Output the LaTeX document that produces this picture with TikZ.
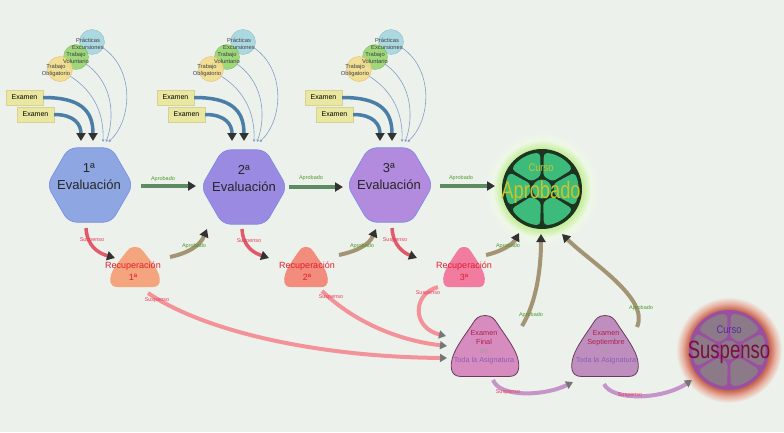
\documentclass[tikz,border=0pt]{standalone}
\usepackage{fontspec}
\setmainfont{Liberation Sans}
\usetikzlibrary{arrows.meta,shapes.geometric}
\definecolor{bg}{RGB}{237,241,236}
\definecolor{exbox}{RGB}{234,232,160}
\definecolor{exboxline}{RGB}{214,210,150}
\definecolor{bluearr}{RGB}{74,126,166}
\definecolor{thinline}{RGB}{130,158,200}
\definecolor{cblue}{RGB}{166,214,224}
\definecolor{cgreen}{RGB}{150,214,110}
\definecolor{cyellow}{RGB}{242,222,140}
\definecolor{cyellowline}{RGB}{240,190,120}
\definecolor{hexA}{RGB}{142,166,226}
\definecolor{hexB}{RGB}{154,138,226}
\definecolor{hexC}{RGB}{178,138,222}
\definecolor{hexline}{RGB}{120,140,230}
\definecolor{greenarr}{RGB}{94,140,98}
\definecolor{aprtext}{RGB}{76,154,42}
\definecolor{susparr}{RGB}{226,90,105}
\definecolor{susptext}{RGB}{232,64,90}
\definecolor{tanarr}{RGB}{163,148,116}
\definecolor{recA}{RGB}{244,165,126}
\definecolor{recB}{RGB}{242,140,124}
\definecolor{recC}{RGB}{242,124,160}
\definecolor{rectext}{RGB}{226,30,46}
\definecolor{pinkarr}{RGB}{244,146,154}
\definecolor{exfin}{RGB}{214,140,190}
\definecolor{exsep}{RGB}{190,142,190}
\definecolor{exline}{RGB}{106,58,88}
\definecolor{exred}{RGB}{176,32,74}
\definecolor{exgrey}{RGB}{160,160,160}
\definecolor{expurple}{RGB}{138,94,181}
\definecolor{purparr}{RGB}{197,148,201}
\definecolor{tipdark}{RGB}{50,50,50}
\definecolor{tipgrey}{RGB}{118,118,118}
\definecolor{ballgreen}{RGB}{61,187,122}
\definecolor{ballline}{RGB}{28,52,32}
\definecolor{aprbig}{RGB}{204,196,44}
\definecolor{ballgrey}{RGB}{140,122,136}
\definecolor{ballpurple}{RGB}{154,80,160}
\definecolor{suscurso}{RGB}{90,40,160}
\definecolor{susbig}{RGB}{122,16,64}
\definecolor{glowAa}{RGB}{200,238,160}
\definecolor{glowAb}{RGB}{238,248,230}
\definecolor{glowSa}{RGB}{196,100,78}
\definecolor{glowSb}{RGB}{232,176,160}
\pgfdeclareradialshading{glowapr}{\pgfpoint{0bp}{0bp}}{color(0bp)=(glowAa); color(18bp)=(glowAa); color(21.5bp)=(glowAb); color(25bp)=(bg); color(50bp)=(bg)}
\pgfdeclareradialshading{glowsus}{\pgfpoint{0bp}{0bp}}{color(0bp)=(glowSa); color(19bp)=(glowSa); color(22bp)=(glowSb); color(25bp)=(bg); color(50bp)=(bg)}

% rounded triangle blob: cx cy halfwidth halfheight options
\newcommand\drawblob[5]{%
  \path[#5] (#1,{#2-#4})
   .. controls ({#1+0.2*#3},{#2-#4}) and ({#1+0.28*#3},{#2-0.88*#4}) .. ({#1+0.36*#3},{#2-0.74*#4})
   .. controls ({#1+0.52*#3},{#2-0.46*#4}) and ({#1+0.85*#3},{#2}) .. ({#1+0.95*#3},{#2+0.36*#4})
   .. controls ({#1+1.02*#3},{#2+0.62*#4}) and ({#1+1.05*#3},{#2+#4}) .. ({#1+0.7*#3},{#2+#4})
   -- ({#1-0.7*#3},{#2+#4})
   .. controls ({#1-1.05*#3},{#2+#4}) and ({#1-1.02*#3},{#2+0.62*#4}) .. ({#1-0.95*#3},{#2+0.36*#4})
   .. controls ({#1-0.85*#3},{#2}) and ({#1-0.52*#3},{#2-0.46*#4}) .. ({#1-0.36*#3},{#2-0.74*#4})
   .. controls ({#1-0.28*#3},{#2-0.88*#4}) and ({#1-0.2*#3},{#2-#4}) .. cycle;}

% ball: cx cy r panelfill linecolor
\newcommand\drawball[5]{%
  \fill[#5] (#1,#2) circle (#3);
  \begin{scope}[shift={(#1,#2)}]
    \foreach \cc in {0,60,...,300}{
      \fill[#4, rounded corners=3.5pt] ({\cc-25}:13) -- ({\cc-27}:{#3-3.8}) arc[start angle={\cc-27}, end angle={\cc+27}, radius={#3-3.8}] -- ({\cc+25}:13) -- cycle;
    }
    \fill[#4] (0,0) circle (9.5);
  \end{scope}}

\begin{document}
\begin{tikzpicture}[x=1pt,y=-1pt,
  lbl/.style={font=\fontsize{5.5}{6}\selectfont, inner sep=0pt},
  arrD/.style={-{Triangle[length=8pt,width=9pt,color=tipdark]}},
  arrG/.style={-{Triangle[length=7pt,width=8pt,color=tipgrey]}},
  circs/.style={circle, minimum size=25pt, inner sep=0pt, fill opacity=0.9},
  ctext/.style={font=\fontsize{5.8}{7.5}\selectfont, align=center, text=black!75, inner sep=0pt},
  exboxs/.style={fill=exbox, draw=exboxline, line width=0.4pt, minimum width=37pt, minimum height=15pt, inner sep=0pt, font=\fontsize{7}{8}\selectfont},
  bluethick/.style={draw=bluearr, line width=3.5pt, arrD},
  thinarr/.style={draw=thinline, line width=0.6pt, -{Triangle[length=2.5pt,width=2.5pt]}},
  hexs/.style={regular polygon, regular polygon sides=6, minimum size=86pt, inner sep=0pt, draw=hexline, line width=0.6pt, rounded corners=8pt},
  hext/.style={font=\fontsize{13}{17}\selectfont, align=center, text=black!85, inner sep=0pt},
  rect/.style={font=\fontsize{9}{12}\selectfont, align=center, text=rectext, inner sep=0pt},
  ext/.style={font=\fontsize{7.3}{9}\selectfont, align=center, inner sep=0pt},
  greenline/.style={draw=greenarr, line width=4.5pt, arrD},
  suspline/.style={draw=susparr, line width=3.5pt, arrD},
  tanline/.style={draw=tanarr, line width=4pt, arrD},
  pinkline/.style={draw=pinkarr, line width=4pt, arrG},
  purpline/.style={draw=purparr, line width=4pt, arrG}]
\path[use as bounding box, fill=bg] (0,0) rectangle (784,432);

% glows
\shade[shading=glowapr] (542,189) circle (57);
\shade[shading=glowsus] (729,350) circle (53);

% clusters
\foreach \k/\dx in {1/0,2/151,3/299}{
  \begin{scope}[xshift=\dx]
    \node[circs, fill=cblue, draw=cblue!85!black, line width=0.3pt] (cb\k) at (92,42) {};
    \node[circs, fill=cgreen, draw=cgreen!85!black, line width=0.3pt] (cg\k) at (76,57) {};
    \node[circs, fill=cyellow, draw=cyellowline, line width=0.5pt] (cy\k) at (60,69) {};
    \node[ctext] (tp\k) at (88,44) {Prácticas\\Excursiones};
    \node[ctext] (tv\k) at (76,58) {Trabajo\\Voluntario};
    \node[ctext] (to\k) at (56,70.5) {Trabajo\\Obligatorio};
    \node[exboxs] (ea\k) at (24.5,97.5) {Examen};
    \node[exboxs] (eb\k) at (35.5,114.5) {Examen};
    \coordinate (ia\k) at (93,141);
    \coordinate (ib\k) at (81,141);
    \coordinate (ta\k) at (103,142);
    \coordinate (tb\k) at (106,142);
    \coordinate (tc\k) at (108.5,142);
    \draw[bluethick] (ea\k.east) .. controls (80,97.5) and (93,110) .. (ia\k);
    \draw[bluethick] (eb\k.east) .. controls (75,114.5) and (81,125) .. (ib\k);
    \draw[thinarr] (cb\k.-28) .. controls (135,70) and (132,120) .. (tc\k);
    \draw[thinarr] (cg\k.-35) .. controls (115,85) and (114,120) .. (tb\k);
    \draw[thinarr] (cy\k.-35) .. controls (95,92) and (104,115) .. (ta\k);
  \end{scope}
}

% hexagons
\node[hexs, fill=hexA] (H1) at (90,185) {};
\node[hexs, fill=hexB] (H2) at (244,187) {};
\node[hexs, fill=hexC] (H3) at (390,185) {};
\node[hext] (H1t) at (89,177) {1ª\\Evaluación};
\node[hext] (H2t) at (244,179) {2ª\\Evaluación};
\node[hext] (H3t) at (389,177) {3ª\\Evaluación};

% green arrows between evaluations
\coordinate (a1s) at (141,186); \coordinate (a1e) at (196,186);
\coordinate (a2s) at (289,187); \coordinate (a2e) at (343,187);
\coordinate (a3s) at (440,186); \coordinate (a3e) at (495,186);
\draw[greenline] (a1s) -- (a1e);
\draw[greenline] (a2s) -- (a2e);
\draw[greenline] (a3s) -- (a3e);
\node[lbl, text=aprtext] (la1) at (163,179) {Aprobado};
\node[lbl, text=aprtext] (la2) at (311,178) {Aprobado};
\node[lbl, text=aprtext] (la3) at (461,178) {Aprobado};

% connectors lower part
\coordinate (s1a) at (86,228);  \coordinate (s1b) at (115,258);
\coordinate (s2a) at (242,229); \coordinate (s2b) at (269,258);
\coordinate (s3a) at (392,228); \coordinate (s3b) at (417,258);
\draw[suspline] (s1a) .. controls (87,246) and (98,253) .. (s1b);
\draw[suspline] (s2a) .. controls (243,247) and (254,253) .. (s2b);
\draw[suspline] (s3a) .. controls (393,246) and (404,253) .. (s3b);

\coordinate (t1a) at (170,257); \coordinate (t1b) at (207,229);
\coordinate (t2a) at (339,255); \coordinate (t2b) at (376,229);
\coordinate (t3a) at (486,255); \coordinate (t3b) at (519,233);
\coordinate (t4a) at (522,326); \coordinate (t4b) at (541,234);
\coordinate (t5a) at (637,327); \coordinate (t5b) at (562,234);
\draw[tanline] (t1a) .. controls (188,253) and (200,246) .. (t1b);
\draw[tanline] (t2a) .. controls (357,251) and (369,245) .. (t2b);
\draw[tanline] (t3a) .. controls (503,251) and (513,244) .. (t3b);
\draw[tanline] (t4a) .. controls (536,303) and (541,270) .. (t4b);
\draw[tanline] (t5a) .. controls (650,298) and (590,262) .. (t5b);

\coordinate (p1a) at (148,293); \coordinate (p1b) at (447,358);
\coordinate (p2a) at (322,291); \coordinate (p2b) at (447,346);
\coordinate (p3a) at (438,287); \coordinate (p3b) at (446,336);
\draw[pinkline] (p1a) .. controls (205,332) and (320,357) .. (p1b);
\draw[pinkline] (p2a) .. controls (352,320) and (395,340) .. (p2b);
\draw[pinkline] (p3a) .. controls (412,294) and (412,328) .. (p3b);

\coordinate (b1a) at (493,380); \coordinate (b1b) at (573,382);
\coordinate (b2a) at (604,384); \coordinate (b2b) at (692,380);
\draw[purpline] (b1a) .. controls (500,398) and (545,396) .. (b1b);
\draw[purpline] (b2a) .. controls (612,401) and (662,400) .. (b2b);

% recuperacion shapes
\drawblob{135}{267}{25}{20}{fill=recA}
\drawblob{306}{267}{22}{20}{fill=recB}
\drawblob{464}{267}{21}{20}{fill=recC}
\node[rect] (R1) at (133,271) {Recuperación\\1ª};
\node[rect] (R2) at (307,271) {Recuperación\\2ª};
\node[rect] (R3) at (464,271) {Recuperación\\3ª};

% exam shapes
\drawblob{485}{346}{34}{30.5}{fill=exfin, draw=exline, line width=0.8pt}
\drawblob{605}{346}{33.5}{30.5}{fill=exsep, draw=exline, line width=0.8pt}
\node[ext] (EF) at (484,347.5) {\textcolor{exred}{Examen}\\\textcolor{exred}{Final}\\\textcolor{exgrey}{de}\\\textcolor{expurple}{Toda la Asignatura}};
\node[ext] (ES) at (606,347.5) {\textcolor{exred}{Examen}\\\textcolor{exred}{Septiembre}\\\textcolor{exgrey}{de}\\\textcolor{expurple}{Toda la Asignatura}};

% balls
\drawball{542}{189}{40}{ballgreen}{ballline}
\drawball{729}{350}{40}{ballgrey}{ballpurple}
\node[font=\fontsize{11}{12}\selectfont, text=aprbig, inner sep=0pt] (ac) at (541,168) {\scalebox{0.85}[1]{Curso}};
\node[font=\fontsize{24}{26}\selectfont, text=aprbig, inner sep=0pt] (ab) at (541,192) {\scalebox{0.76}[1]{Aprobado}};
\node[font=\fontsize{11}{12}\selectfont, text=suscurso, inner sep=0pt] (sc) at (729,330) {\scalebox{0.85}[1]{Curso}};
\node[font=\fontsize{25}{26}\selectfont, text=susbig, inner sep=0pt] (sb) at (729,352) {\scalebox{0.74}[1]{Suspenso}};

% labels
\node[lbl, text=susptext] (ls1) at (92,240) {Suspenso};
\node[lbl, text=susptext] (ls2) at (249,241) {Suspenso};
\node[lbl, text=susptext] (ls3) at (395,240) {Suspenso};
\node[lbl, text=aprtext] (lt1) at (194,246) {Aprobado};
\node[lbl, text=aprtext] (lt2) at (362,246) {Aprobado};
\node[lbl, text=aprtext] (lt3) at (508,246) {Aprobado};
\node[lbl, text=aprtext] (lt4) at (531,315) {Aprobado};
\node[lbl, text=aprtext] (lt5) at (641,308) {Aprobado};
\node[lbl, text=susptext] (lp1) at (157,300) {Suspenso};
\node[lbl, text=susptext] (lp2) at (331,297) {Suspenso};
\node[lbl, text=susptext] (lp3) at (428,293) {Suspenso};
\node[lbl, text=susptext] (lb1) at (508,392) {Suspenso};
\node[lbl, text=susptext] (lb2) at (630,395) {Suspenso};
\end{tikzpicture}
\end{document}
